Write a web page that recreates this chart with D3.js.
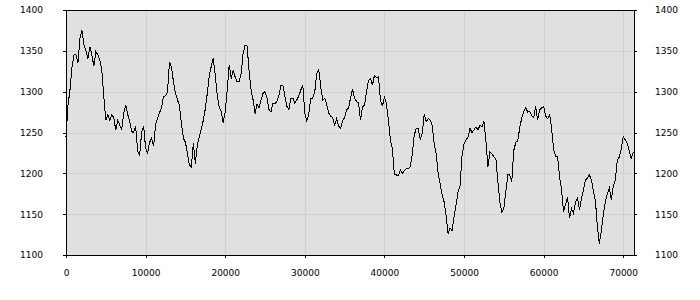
<!DOCTYPE html>
<html>
<head>
<meta charset="utf-8">
<script src="https://cdn.jsdelivr.net/npm/d3@7"></script>
<style>
  body { margin: 0; background: #fff; }
  text { font-family: "DejaVu Sans", sans-serif; font-size: 9px; fill: #000; }
</style>
</head>
<body>
<div id="chart"></div>
<script>
// sampled every 250 units along x
const xStep = 250;
const values = [
  1245, 1283, 1302, 1330, 1345, 1345, 1335, 1365, 1375, 1358,
  1350, 1340, 1355, 1345, 1331, 1349, 1345, 1339, 1326, 1294,
  1265, 1272, 1265, 1272, 1268, 1253, 1265, 1259, 1254, 1274,
  1284, 1272, 1264, 1251, 1250, 1258, 1227, 1222, 1250, 1258,
  1231, 1225, 1238, 1243, 1233, 1259, 1268, 1274, 1281, 1294,
  1295, 1300, 1336, 1330, 1312, 1298, 1290, 1283, 1261, 1243,
  1238, 1225, 1210, 1208, 1237, 1212, 1235, 1245, 1255, 1265,
  1279, 1298, 1320, 1331, 1341, 1320, 1296, 1280, 1276, 1262,
  1275, 1302, 1333, 1316, 1326, 1318, 1312, 1312, 1322, 1347,
  1357, 1356, 1325, 1302, 1290, 1273, 1285, 1280, 1290, 1298,
  1300, 1292, 1278, 1275, 1286, 1285, 1288, 1296, 1308, 1308,
  1294, 1282, 1278, 1292, 1292, 1286, 1290, 1295, 1302, 1308,
  1273, 1264, 1273, 1292, 1292, 1300, 1322, 1327, 1306, 1290,
  1292, 1284, 1274, 1270, 1268, 1259, 1267, 1258, 1255, 1265,
  1268, 1278, 1280, 1293, 1303, 1292, 1288, 1286, 1265, 1282,
  1283, 1300, 1314, 1316, 1308, 1320, 1317, 1318, 1290, 1282,
  1294, 1285, 1265, 1241, 1230, 1198, 1198, 1197, 1204, 1200,
  1203, 1206, 1206, 1208, 1224, 1247, 1255, 1255, 1241, 1249,
  1273, 1263, 1267, 1265, 1259, 1237, 1224, 1200, 1187, 1174,
  1165, 1148, 1126, 1133, 1130, 1147, 1162, 1177, 1185, 1222,
  1236, 1241, 1244, 1255, 1250, 1253, 1257, 1253, 1259, 1257,
  1264, 1240, 1208, 1226, 1224, 1220, 1218, 1190, 1165, 1153,
  1157, 1178, 1198, 1198, 1190, 1228, 1238, 1240, 1256, 1268,
  1276, 1280, 1275, 1276, 1271, 1268, 1282, 1265, 1278, 1280,
  1282, 1270, 1267, 1272, 1255, 1229, 1221, 1220, 1196, 1180,
  1153, 1162, 1171, 1145, 1157, 1151, 1165, 1170, 1155, 1169,
  1180, 1192, 1194, 1198, 1192, 1178, 1167, 1135, 1114, 1130,
  1150, 1165, 1175, 1182, 1168, 1184, 1192, 1216, 1220, 1230,
  1245, 1241, 1237, 1228, 1218, 1226
];
const xTicks = [0, 10000, 20000, 30000, 40000, 50000, 60000, 70000];
const yTicks = [1100, 1150, 1200, 1250, 1300, 1350, 1400];

const width = 700, height = 300;
const margin = { top: 10, right: 66, bottom: 45, left: 66 };
const innerW = width - margin.left - margin.right;
const innerH = height - margin.top - margin.bottom;

const svg = d3.select("#chart").append("svg")
    .attr("width", width)
    .attr("height", height);

const g = svg.append("g")
    .attr("transform", `translate(${margin.left},${margin.top})`);

const x = d3.scaleLinear()
    .domain([0, 71350])
    .range([0, innerW]);

const y = d3.scaleLinear()
    .domain([1100, 1400])
    .range([innerH, 0]);

// plot background
g.append("rect")
    .attr("width", innerW)
    .attr("height", innerH)
    .attr("fill", "#e0e0e0");

// grid
g.append("g")
    .selectAll("line")
    .data(xTicks.slice(1))
    .join("line")
    .attr("x1", d => Math.round(x(d)) + 0.5)
    .attr("x2", d => Math.round(x(d)) + 0.5)
    .attr("y1", 0)
    .attr("y2", innerH)
    .attr("stroke", "#d0d0d0");

g.append("g")
    .selectAll("line")
    .data(yTicks.slice(1, -1))
    .join("line")
    .attr("x1", 0)
    .attr("x2", innerW)
    .attr("y1", d => Math.round(y(d)) + 0.5)
    .attr("y2", d => Math.round(y(d)) + 0.5)
    .attr("stroke", "#d0d0d0");

// the series
const line = d3.line()
    .x((d, i) => x(i * xStep))
    .y(d => y(d));

g.append("path")
    .datum(values)
    .attr("fill", "none")
    .attr("stroke", "#000")
    .attr("stroke-width", 1)
    .attr("shape-rendering", "crispEdges")
    .attr("d", line);

// axes (ticks + labels only, the frame draws the lines)
const fmt = d3.format("d");

const bottomAxis = g.append("g")
    .attr("transform", `translate(0,${innerH})`)
    .call(d3.axisBottom(x).tickValues(xTicks).tickFormat(fmt).tickSizeOuter(0).tickSize(3).tickPadding(12));

const leftAxis = g.append("g")
    .call(d3.axisLeft(y).tickValues(yTicks).tickFormat(fmt).tickSizeOuter(0).tickSize(3).tickPadding(20));

const rightAxis = g.append("g")
    .attr("transform", `translate(${innerW},0)`)
    .call(d3.axisRight(y).tickValues(yTicks).tickFormat(fmt).tickSizeOuter(0).tickSize(3).tickPadding(18));

[bottomAxis, leftAxis, rightAxis].forEach(a => {
    a.select(".domain").remove();
    a.selectAll(".tick line").attr("shape-rendering", "crispEdges");
});

g.selectAll(".tick text")
    .attr("font-family", "DejaVu Sans, sans-serif")
    .attr("font-size", 9)
    .attr("fill", "#000");

// frame
g.append("rect")
    .attr("x", 0)
    .attr("y", 0)
    .attr("width", innerW)
    .attr("height", innerH)
    .attr("fill", "none")
    .attr("stroke", "#000")
    .attr("shape-rendering", "crispEdges");
</script>
</body>
</html>
